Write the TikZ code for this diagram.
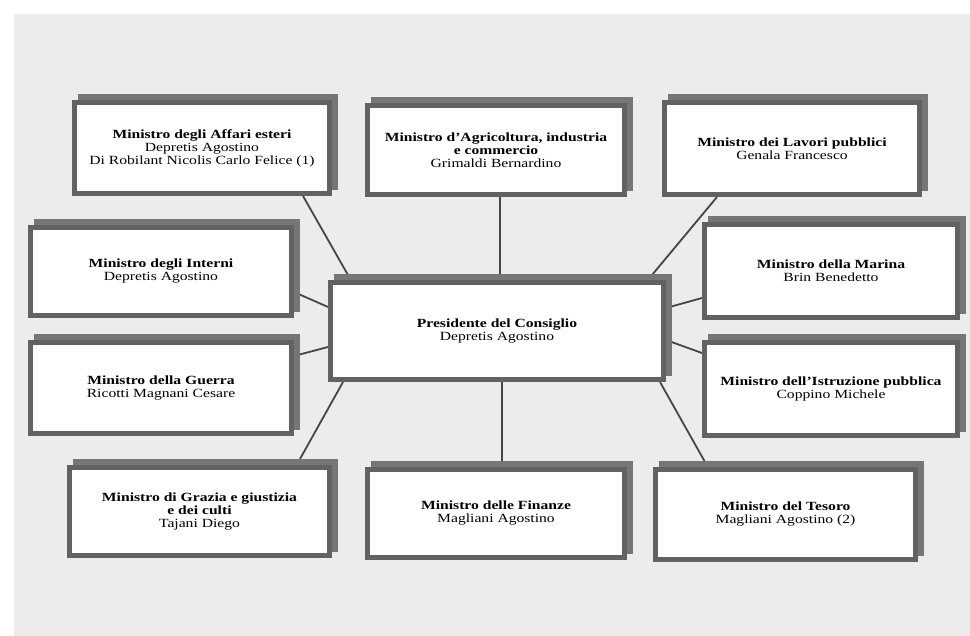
\documentclass[tikz,border=0pt]{standalone}
\usepackage{fontspec}
\setmainfont{Liberation Serif}[FakeStretch=1.25]
\usetikzlibrary{shadows,calc}
\definecolor{paper}{RGB}{236,236,236}
\definecolor{framegray}{RGB}{98,98,98}
\definecolor{shadowgray}{RGB}{118,118,118}
\definecolor{linegray}{RGB}{70,70,70}
\pgfdeclarelayer{paperlayer}
\pgfdeclarelayer{background}
\pgfsetlayers{paperlayer,background,main}
\tikzset{
  minbox/.style={draw=framegray, fill=white, line width=5pt, inner sep=0pt, outer sep=2.5pt,
    align=center, font=\fontsize{12.5}{13}\selectfont,
    general shadow={fill=shadowgray, draw=shadowgray, line width=5pt, shadow xshift=6pt, shadow yshift=6pt}},
  conn/.style={draw=linegray, line width=1.8pt}
}
\begin{document}
\begin{tikzpicture}[x=1pt,y=-1pt]
\begin{pgfonlayer}{paperlayer}
\fill[white] (0,0) rectangle (970,636);
\fill[paper] (14,14) rectangle (970,636);
\end{pgfonlayer}
\useasboundingbox (0,0) rectangle (970,636);

\node[minbox, minimum width=255pt, minimum height=91pt] (aff) at (202,148)
  {\textbf{Ministro degli Affari esteri}\\Depretis Agostino\\Di Robilant Nicolis Carlo Felice (1)};
\node[minbox, minimum width=257pt, minimum height=89pt] (agr) at (496,150)
  {\textbf{Ministro d’Agricoltura, industria}\\\textbf{e commercio}\\Grimaldi Bernardino};
\node[minbox, minimum width=255pt, minimum height=92pt] (lav) at (792,148.5)
  {\textbf{Ministro dei Lavori pubblici}\\Genala Francesco};
\node[minbox, minimum width=261pt, minimum height=88pt] (int) at (161,271.5)
  {\textbf{Ministro degli Interni}\\Depretis Agostino};
\node[minbox, minimum width=261pt, minimum height=91pt] (gue) at (161,388)
  {\textbf{Ministro della Guerra}\\Ricotti Magnani Cesare};
\node[minbox, minimum width=333pt, minimum height=97pt] (pres) at (497,331)
  {\textbf{Presidente del Consiglio}\\Depretis Agostino};
\node[minbox, minimum width=253pt, minimum height=93pt] (mar) at (831,271)
  {\textbf{Ministro della Marina}\\Brin Benedetto};
\node[minbox, minimum width=253pt, minimum height=93pt] (ist) at (831,389)
  {\textbf{Ministro dell’Istruzione pubblica}\\Coppino Michele};
\node[minbox, minimum width=260pt, minimum height=88pt] (gra) at (199.5,511.5)
  {\textbf{Ministro di Grazia e giustizia}\\\textbf{e dei culti}\\Tajani Diego};
\node[minbox, minimum width=257pt, minimum height=88pt] (fin) at (496,513.5)
  {\textbf{Ministro delle Finanze}\\Magliani Agostino};
\node[minbox, minimum width=260pt, minimum height=90pt] (tes) at (785.5,514.5)
  {\textbf{Ministro del Tesoro}\\Magliani Agostino (2)};

\begin{pgfonlayer}{background}
\draw[conn] ($(aff.south west)+(231,0)$) -- ($(pres.north west)+(20,-5)$);
\draw[conn] ($(agr.south)+(4,0)$) -- ($(pres.north)+(3,-5)$);
\draw[conn] ($(lav.south west)+(55,0)$) -- ($(pres.north east)+(-14,-5)$);
\draw[conn] ($(int.south east)+(0,-26)$) -- ($(pres.north west)+(0,27)$);
\draw[conn] ($(gue.north east)+(0,16)$) -- ($(pres.south west)+(0,-35)$);
\draw[conn] ($(gra.north west)+(233,-6)$) -- ($(pres.south west)+(15,0)$);
\draw[conn] ($(pres.south)+(5,0)$) -- ($(fin.north)+(6,-6)$);
\draw[conn] ($(pres.south east)+(-6,0)$) -- ($(tes.north west)+(52,-5)$);
\draw[conn] ($(pres.north east)+(0,28)$) -- ($(mar.south west)+(0,-22)$);
\draw[conn] ($(pres.north east)+(0,60)$) -- ($(ist.north west)+(0,13)$);
\end{pgfonlayer}
\end{tikzpicture}
\end{document}
